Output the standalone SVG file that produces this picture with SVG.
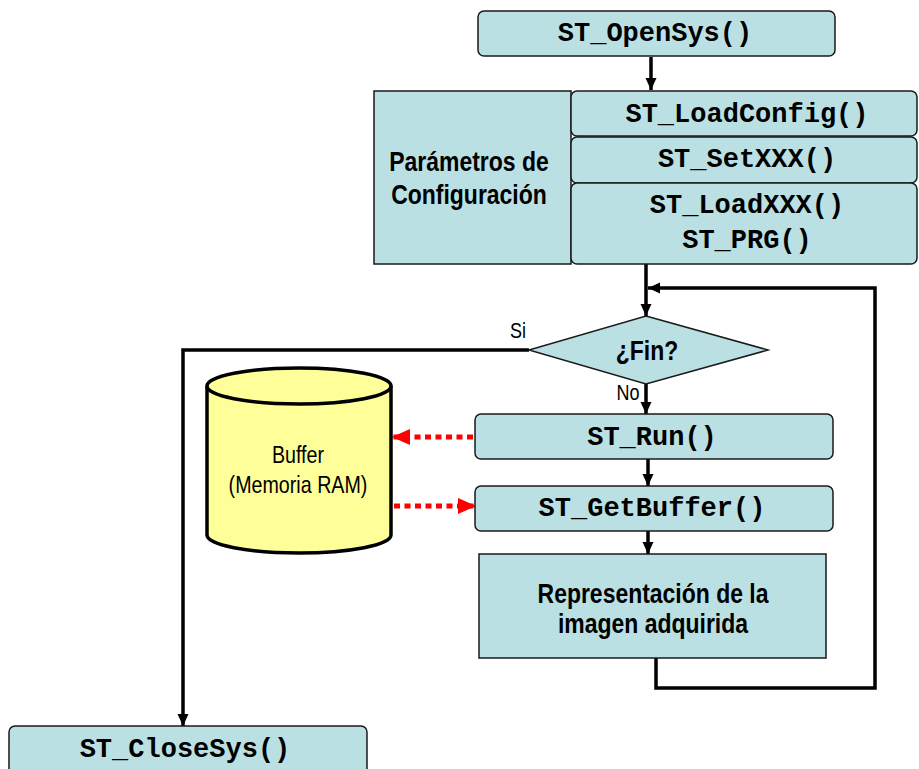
<svg xmlns="http://www.w3.org/2000/svg" width="919" height="769" viewBox="0 0 919 769">
  <style>
    .box { fill: #BBE0E3; stroke: #1a1a1a; stroke-width: 1.5; }
    .code { font-family: "Liberation Mono", "Courier New", monospace; font-weight: bold; font-size: 27px; fill: #000; text-anchor: middle; }
    .label { font-family: "Liberation Sans", Arial, sans-serif; font-weight: bold; font-size: 28px; fill: #000; text-anchor: middle; }
    .small { font-family: "Liberation Sans", Arial, sans-serif; font-size: 22px; fill: #000; text-anchor: middle; }
    .note { font-family: "Liberation Sans", Arial, sans-serif; font-size: 24px; fill: #000; text-anchor: middle; }
    .flow { fill: none; stroke: #000; stroke-width: 3.5; }
    .data { fill: none; stroke: #FF0000; stroke-width: 5; stroke-dasharray: 6 4.5; }
  </style>
  <defs>
    <marker id="arrow" markerUnits="userSpaceOnUse" markerWidth="13" markerHeight="12" refX="12" refY="5.5" orient="auto">
      <path d="M0,0 L12,5.5 L0,11 z" fill="#000"/>
    </marker>
    <marker id="redArrow" markerUnits="userSpaceOnUse" markerWidth="19" markerHeight="17" refX="18" refY="8" orient="auto">
      <path d="M0,0 L18,8 L0,16 z" fill="#FF0000"/>
    </marker>
  </defs>

  <!-- connectors -->
  <g id="connectors">
    <line class="flow" x1="651" y1="57" x2="651" y2="90" marker-end="url(#arrow)"/>
    <line class="flow" x1="646" y1="264" x2="646" y2="316" marker-end="url(#arrow)"/>
    <polyline class="flow" points="656,658 656,688 875,688 875,288 648,288" marker-end="url(#arrow)"/>
    <polyline class="flow" points="529,350 183,350 183,726" marker-end="url(#arrow)"/>
    <line class="flow" x1="646" y1="384" x2="646" y2="414" marker-end="url(#arrow)"/>
    <line class="flow" x1="648" y1="459" x2="648" y2="486" marker-end="url(#arrow)"/>
    <line class="flow" x1="648" y1="531" x2="648" y2="554" marker-end="url(#arrow)"/>
    <line class="data" x1="473" y1="437" x2="392" y2="437" marker-end="url(#redArrow)"/>
    <line class="data" x1="394" y1="506" x2="476" y2="506" marker-end="url(#redArrow)"/>
    <text class="small" transform="translate(518,338) scale(0.82,1)">Si</text>
    <text class="small" transform="translate(628,400) scale(0.82,1)">No</text>
  </g>

  <g id="open-sys">
    <rect class="box" x="478" y="11" width="357" height="45" rx="6"/>
    <text class="code" x="655" y="41">ST_OpenSys()</text>
  </g>

  <!-- condensed labels: horizontal scale 0.82 around the anchor -->
  <g id="parametros">
    <rect class="box" x="374" y="91" width="197" height="173"/>
    <text class="label" transform="translate(469,171) scale(0.82,1)">Parámetros de</text>
    <text class="label" transform="translate(469,204) scale(0.82,1)">Configuración</text>
  </g>

  <g id="load-config">
    <rect class="box" x="571" y="91" width="346" height="45" rx="6"/>
    <text class="code" x="747" y="122">ST_LoadConfig()</text>
  </g>

  <g id="set-xxx">
    <rect class="box" x="571" y="137" width="346" height="46" rx="6"/>
    <text class="code" x="747" y="167">ST_SetXXX()</text>
  </g>

  <g id="load-xxx">
    <rect class="box" x="571" y="183" width="346" height="81" rx="6"/>
    <text class="code" x="747" y="213">ST_LoadXXX()</text>
    <text class="code" x="747" y="248">ST_PRG()</text>
  </g>

  <g id="fin">
    <polygon class="box" points="646,316 768,350 646,384 529,350"/>
    <text class="label" transform="translate(647,360) scale(0.82,1)">¿Fin?</text>
  </g>

  <g id="buffer">
    <path d="M207,386 A92,18 0 0 1 391,386 V535 A92,18 0 0 1 207,535 Z" fill="#FFFF99" stroke="#000" stroke-width="3.5"/>
    <path d="M207,386 A92,18 0 0 0 391,386" fill="none" stroke="#000" stroke-width="3.5"/>
    <text class="note" transform="translate(298,463) scale(0.82,1)">Buffer</text>
    <text class="note" transform="translate(298,493) scale(0.82,1)">(Memoria RAM)</text>
  </g>

  <g id="run">
    <rect class="box" x="475" y="414" width="358" height="45" rx="6"/>
    <text class="code" x="652" y="445">ST_Run()</text>
  </g>

  <g id="get-buffer">
    <rect class="box" x="475" y="486" width="358" height="45" rx="6"/>
    <text class="code" x="652" y="516">ST_GetBuffer()</text>
  </g>

  <g id="representacion">
    <rect class="box" x="479" y="554" width="347" height="104"/>
    <text class="label" transform="translate(653,603) scale(0.82,1)">Representación de la</text>
    <text class="label" transform="translate(653,633) scale(0.82,1)">imagen adquirida</text>
  </g>

  <g id="close-sys">
    <rect class="box" x="9" y="726" width="358" height="52" rx="6"/>
    <text class="code" x="185" y="757">ST_CloseSys()</text>
  </g>
</svg>
